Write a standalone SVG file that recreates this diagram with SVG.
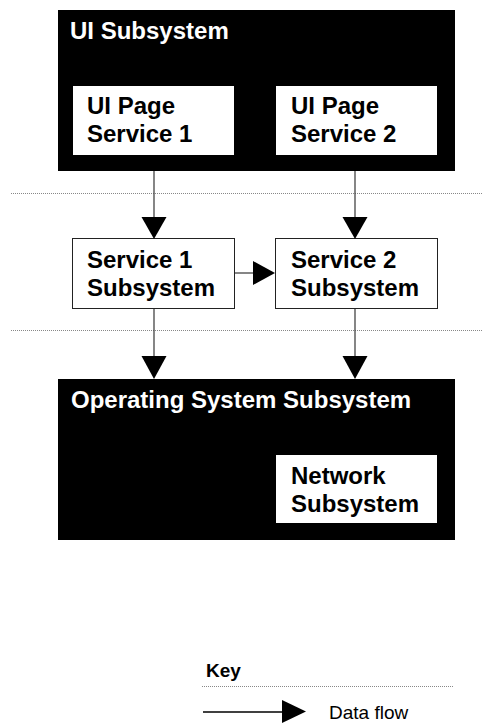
<svg xmlns="http://www.w3.org/2000/svg" width="483" height="723" viewBox="0 0 483 723">
<defs>
<style>
.big{fill:#000;}
.box{fill:#fff;stroke:#222;stroke-width:1;}
.wbox{fill:#fff;}
.t{font-family:"Liberation Sans",Arial,sans-serif;font-weight:bold;font-size:24px;fill:#000;}
.tw{font-family:"Liberation Sans",Arial,sans-serif;font-weight:bold;font-size:24px;fill:#fff;}
.ln{stroke:#444;stroke-width:1.3;fill:none;}
.hd{fill:#000;}
.dot{stroke:#888;stroke-width:1;stroke-dasharray:1 1;fill:none;}
</style>
</defs>
<rect width="483" height="723" fill="#fff"/>
<g id="separators">
<line class="dot" x1="11" y1="193.5" x2="483" y2="193.5"/>
<line class="dot" x1="11" y1="330.5" x2="483" y2="330.5"/>
</g>
<g id="ui-subsystem">
<rect class="big" x="58" y="10" width="397" height="161"/>
<text class="tw" x="70" y="39">UI Subsystem</text>
</g>
<g id="ui-page-service-1">
<rect class="wbox" x="73" y="86" width="161" height="69"/>
<text class="t" x="87" y="114">UI Page</text>
<text class="t" x="87" y="142">Service 1</text>
</g>
<g id="ui-page-service-2">
<rect class="wbox" x="276" y="86" width="161" height="69"/>
<text class="t" x="291" y="114">UI Page</text>
<text class="t" x="291" y="142">Service 2</text>
</g>
<g id="service-1-subsystem">
<rect class="box" x="72.5" y="238.5" width="162" height="70"/>
<text class="t" x="87" y="268">Service 1</text>
<text class="t" x="87" y="296">Subsystem</text>
</g>
<g id="service-2-subsystem">
<rect class="box" x="275.5" y="238.5" width="162" height="70"/>
<text class="t" x="291" y="268">Service 2</text>
<text class="t" x="291" y="296">Subsystem</text>
</g>
<g id="os-subsystem">
<rect class="big" x="58" y="379" width="397" height="161"/>
<text class="tw" x="71" y="408">Operating System Subsystem</text>
</g>
<g id="network-subsystem">
<rect class="wbox" x="276" y="455" width="161" height="68"/>
<text class="t" x="291" y="484">Network</text>
<text class="t" x="291" y="512">Subsystem</text>
</g>
<g id="connectors">
<line class="ln" x1="154" y1="171" x2="154" y2="218"/>
<polygon class="hd" points="141.5,217 166.5,217 154,239"/>
<line class="ln" x1="355" y1="171" x2="355" y2="218"/>
<polygon class="hd" points="342.5,217 367.5,217 355,239"/>
<line class="ln" x1="235" y1="273" x2="254" y2="273"/>
<polygon class="hd" points="253,261 253,285 275,273"/>
<line class="ln" x1="154" y1="309" x2="154" y2="357"/>
<polygon class="hd" points="141.5,356 166.5,356 154,379"/>
<line class="ln" x1="355" y1="309" x2="355" y2="357"/>
<polygon class="hd" points="342.5,356 367.5,356 355,379"/>
</g>
<g id="key">
<text x="206" y="677" style="font-family:'Liberation Sans',Arial,sans-serif;font-weight:bold;font-size:19px;fill:#000;">Key</text>
<line class="dot" x1="202" y1="686.5" x2="453" y2="686.5"/>
<line x1="203" y1="712" x2="283" y2="712" stroke="#000" stroke-width="1.3"/>
<polygon class="hd" points="282,700 282,723 306,711.5"/>
<text x="329" y="719" style="font-family:'Liberation Sans',Arial,sans-serif;font-size:19px;fill:#000;">Data flow</text>
</g>
</svg>
